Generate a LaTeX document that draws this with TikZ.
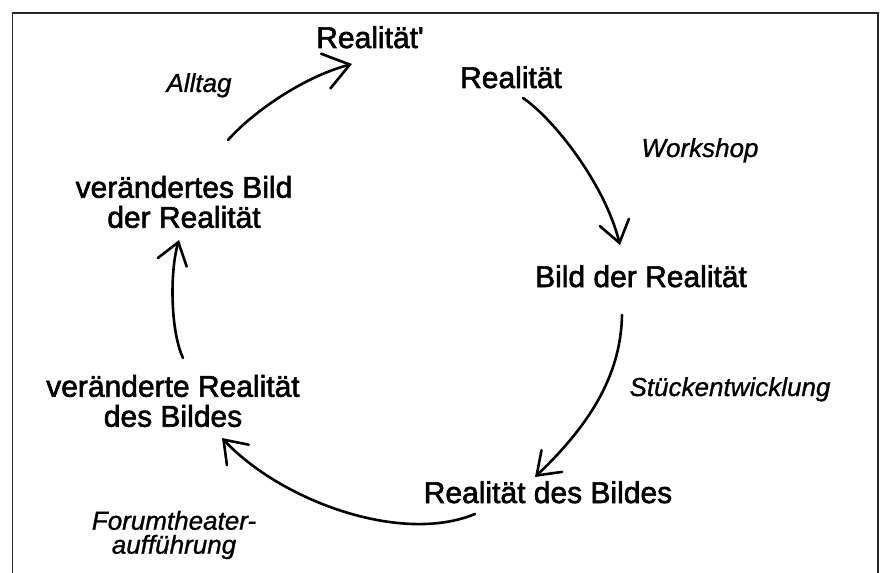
\documentclass[tikz,border=0pt]{standalone}
\usepackage{fontspec}
\setmainfont{Liberation Sans}
\newfontfamily\heavy[FakeBold=2]{Liberation Sans}
\newfontfamily\lblf[FakeBold=1]{Liberation Sans}
\usetikzlibrary{arrows.meta}
\begin{document}
\begin{tikzpicture}[x=1bp,y=-1bp,
  main/.style={font=\heavy\fontsize{30bp}{30bp}\selectfont, inner sep=0pt, align=center},
  lbl/.style={font=\lblf\fontsize{26bp}{24bp}\selectfont\itshape, inner sep=0pt, align=center},
  arr/.style={line width=2.6bp, line cap=round, -{Straight Barb[length=21bp,width=30bp,line cap=round]}},
  bigarr/.style={line width=2.6bp, line cap=round, -{Straight Barb[length=25bp,width=36bp,line cap=round]}},
  frame/.style={line width=1.2bp, black!85}]
\useasboundingbox (0,0) rectangle (882,573);
\draw[frame] (12.5,573) -- (12.5,13) -- (878,13) -- (878,573);

% main nodes
\node[main, anchor=base] (rp)   at (370,48)  {Realität\textquotesingle};
\node[main, anchor=base] (real) at (511,88)  {Realität};
\node[main, anchor=base] (bild) at (641,287) {Bild der Realität};
\node[main, anchor=base] (rdb)  at (548,503) {Realität des Bildes};
\node[main] (vrdb) at (173,401) {veränderte Realität\\des Bildes};
\node[main] (vbild) at (184,202) {verändertes Bild\\der Realität};

% labels
\node[lbl, anchor=base] (alltag) at (199,92)  {Alltag};
\node[lbl, anchor=base] (work)   at (700,157) {Workshop};
\node[lbl, anchor=base] (stueck) at (730,396) {Stückentwicklung};
\node[lbl] (forum) at (174,535) {Forumtheater-\\aufführung};

% arrow end points
\coordinate (a1s) at (228,140); \coordinate (a1e) at (352,64);
\coordinate (a2s) at (523,98);  \coordinate (a2e) at (620,245);
\coordinate (a3s) at (622,315); \coordinate (a3e) at (535,477);
\coordinate (a4s) at (475,514); \coordinate (a4e) at (222,438);
\coordinate (a5s) at (183,358); \coordinate (a5e) at (179,240);

\draw[bigarr] (a1s) .. controls (250,115) and (300,78) .. (a1e);
\draw[arr] (a2s) .. controls (555,120) and (605,185) .. (a2e);
\draw[arr] (a3s) .. controls (621,370) and (595,420) .. (a3e);
\draw[arr] (a4s) .. controls (400,545) and (280,500) .. (a4e);
\draw[arr] (a5s) .. controls (170,330) and (170,270) .. (a5e);
\end{tikzpicture}
\end{document}
